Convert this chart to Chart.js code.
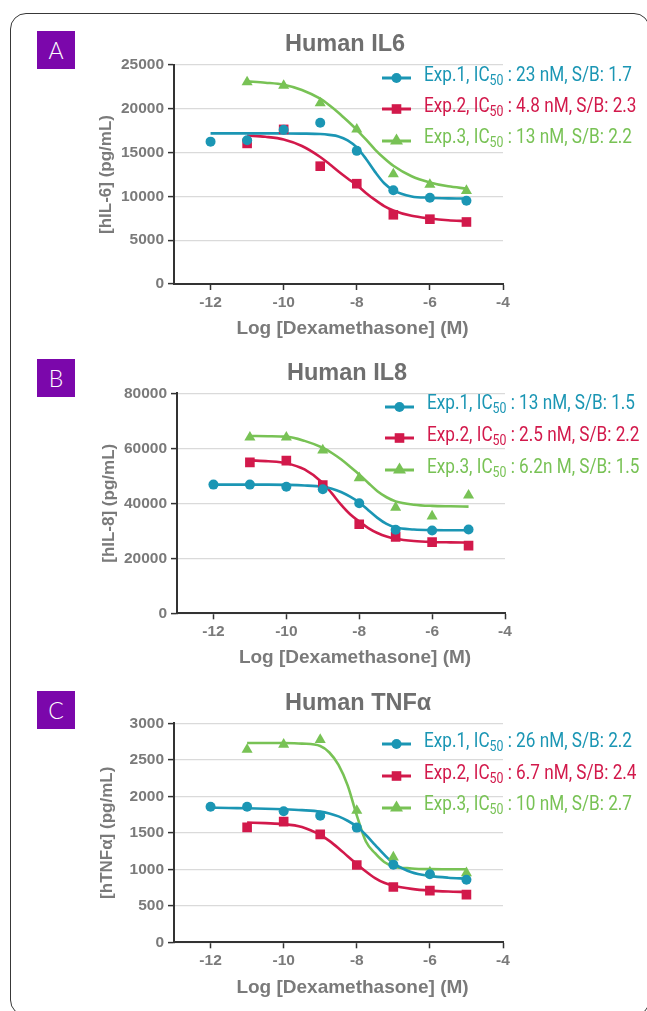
<!DOCTYPE html>
<html><head><meta charset="utf-8">
<script src="https://cdn.jsdelivr.net/npm/chart.js@4.4.1/dist/chart.umd.min.js"></script>
<style>
html,body{margin:0;padding:0;background:#fff;}
body{position:relative;width:647px;height:1011px;overflow:hidden;}
#frame{position:absolute;left:10px;top:13px;width:640px;height:1003px;border:1.5px solid #383838;border-radius:16px;box-sizing:border-box;}
.tag{position:absolute;left:37px;width:38px;height:38px;background:#7b07ab;color:#fff;font-family:Lato,"Open Sans",sans-serif;font-weight:300;font-size:23px;line-height:38px;text-align:center;}
canvas{position:absolute;left:0;}
.ttl{position:absolute;font-family:"Liberation Sans",Arial,sans-serif;font-weight:bold;color:#6f6f6f;font-size:23.5px;line-height:28px;height:28px;white-space:nowrap;}
.xt{position:absolute;width:400px;text-align:center;font-family:"Liberation Sans",Arial,sans-serif;font-weight:bold;color:#7a7a7a;font-size:19px;line-height:24px;height:24px;white-space:nowrap;}
.row{position:absolute;height:30px;width:10px;}
.row svg{position:absolute;left:0;top:5px;}
.row .txt{position:absolute;top:-3.5px;line-height:30px;font-family:"Liberation Sans Narrow",Roboto,sans-serif;font-size:19.5px;white-space:nowrap;transform-origin:0 50%;}
.row sub{font-size:14px;line-height:0;vertical-align:-4px;}
</style></head>
<body>
<div id="frame"></div>
<div class="tag" style="top:31px">A</div>
<div class="tag" style="top:359px">B</div>
<div class="tag" style="top:691px">C</div>
<canvas id="cA"></canvas>
<canvas id="cB"></canvas>
<canvas id="cC"></canvas>
<script>
// ---------- data ----------
const xTickValues = [-12, -10, -8, -6, -4];
const doseFrom12 = [-12, -11, -10, -9, -8, -7, -6, -5];
const doseFrom11 = [-11, -10, -9, -8, -7, -6, -5];
const fitXFrom12 = [-12, -11.5, -11, -10.5, -10, -9.5, -9, -8.75, -8.5, -8.25, -8, -7.75, -7.5, -7.25, -7, -6.5, -6, -5.5, -5];
const fitXFrom11 = [-11, -10.5, -10, -9.5, -9, -8.75, -8.5, -8.25, -8, -7.75, -7.5, -7.25, -7, -6.5, -6, -5.5, -5];
const xAxisTitle = 'Log [Dexamethasone] (M)';

// Human IL6
const il6Ticks = [0, 5000, 10000, 15000, 20000, 25000];
const il6Exp1 = [16250, 16400, 17600, 18400, 15200, 10700, 9850, 9500];
const il6Exp2 = [16050, 17650, 13450, 11450, 7900, 7400, 7080];
const il6Exp3 = [23050, 22650, 20650, 17650, 12550, 11350, 10650];
const il6Fit1 = [17200, 17200, 17200, 17200, 17190, 17170, 17120, 17020, 16850, 16400, 15600, 14300, 12800, 11500, 10700, 10000, 9850, 9780, 9750];
const il6Fit2 = [16950, 16800, 16500, 15750, 14500, 13700, 12850, 12050, 11300, 10400, 9600, 8900, 8400, 7780, 7480, 7280, 7170];
const il6Fit3 = [23130, 22980, 22750, 22150, 21150, 20400, 19550, 18600, 17600, 16500, 15350, 14350, 13500, 12300, 11600, 11150, 10900];
const il6IC50 = ['23 nM', '4.8 nM', '13 nM'];
const il6SB = ['1.7', '2.3', '2.2'];

// Human IL8
const il8Ticks = [0, 20000, 40000, 60000, 80000];
const il8Exp1 = [46800, 46800, 46000, 45100, 40000, 30400, 30100, 30500];
const il8Exp2 = [54900, 55500, 46600, 32400, 27800, 25900, 24600];
const il8Exp3 = [64000, 64000, 59300, 49200, 38500, 35300, 42900];
const il8Fit1 = [46800, 46800, 46800, 46780, 46700, 46500, 46000, 45300, 44100, 42400, 40300, 37500, 34700, 32500, 31200, 30500, 30250, 30200, 30200];
const il8Fit2 = [55600, 55300, 54600, 52300, 47400, 43600, 39500, 36000, 33400, 31000, 29200, 27900, 27100, 26300, 25950, 25800, 25700];
const il8Fit3 = [64500, 64400, 64250, 62700, 60200, 58300, 56000, 53300, 50500, 47400, 44400, 42200, 40700, 39500, 39050, 38900, 38800];
const il8IC50 = ['13 nM', '2.5 nM', '6.2n M'];
const il8SB = ['1.5', '2.2', '1.5'];

// Human TNFα
const tnfTicks = [0, 500, 1000, 1500, 2000, 2500, 3000];
const tnfExp1 = [1858, 1858, 1795, 1735, 1571, 1064, 932, 858];
const tnfExp2 = [1575, 1653, 1479, 1059, 758, 708, 653];
const tnfExp3 = [2640, 2710, 2775, 1805, 1165, 960, 950];
const tnfFit1 = [1845, 1840, 1836, 1830, 1822, 1810, 1790, 1765, 1725, 1665, 1585, 1470, 1335, 1200, 1085, 960, 910, 885, 872];
const tnfFit2 = [1640, 1632, 1620, 1578, 1470, 1390, 1290, 1180, 1073, 970, 880, 815, 775, 732, 708, 695, 688];
const tnfFit3 = [2731, 2731, 2730, 2722, 2690, 2600, 2430, 2150, 1740, 1380, 1220, 1100, 1040, 1012, 1002, 1000, 1000];
const tnfIC50 = ['26 nM', '6.7 nM', '10 nM'];
const tnfSB = ['2.2', '2.4', '2.7'];

// ---------- style ----------
const FONT = '"Liberation Sans", Arial, Helvetica, sans-serif';
const GREY = '#7a7a7a';
const AXIS = '#333333';
const COLORS = ['#1b96b4', '#d2194b', '#78c255'];

function pts(xs, ys) { return xs.map((x, i) => ({x: x, y: ys[i]})); }

function addDiv(cls, text, left, top) {
  const d = document.createElement('div');
  d.className = cls; d.textContent = text;
  d.style.left = left + 'px'; d.style.top = top + 'px';
  document.body.appendChild(d);
}

function build(id, c) {
  const W = 647, H = c.H, T = c.T;
  const cv = document.getElementById(id);
  cv.width = W; cv.height = H;
  cv.style.width = W + 'px'; cv.style.height = H + 'px'; cv.style.top = T + 'px';
  const ytFS = 17, ytLH = ytFS * 1.2;
  const pT = c.plot.top - T, pB = c.plot.bottom - T;
  const tickFont = {family: FONT, size: 15.5, weight: 'bold'};
  new Chart(cv, {
    type: 'scatter',
    data: {
      datasets: [
        {data: pts(doseFrom12, c.exp1), pointStyle: 'circle', pointRadius: 5, backgroundColor: COLORS[0], borderColor: COLORS[0], borderWidth: 0, order: 0},
        {data: pts(doseFrom11, c.exp2), pointStyle: 'rect', pointRadius: 6.8, backgroundColor: COLORS[1], borderColor: COLORS[1], borderWidth: 0, order: 1},
        {data: pts(doseFrom11, c.exp3), pointStyle: 'triangle', pointRadius: 6.4, backgroundColor: COLORS[2], borderColor: COLORS[2], borderWidth: 0, order: 2},
        {data: pts(fitXFrom12, c.fit1), showLine: true, pointRadius: 0, borderColor: COLORS[0], borderWidth: 2.6, cubicInterpolationMode: 'monotone', order: 3},
        {data: pts(fitXFrom11, c.fit2), showLine: true, pointRadius: 0, borderColor: COLORS[1], borderWidth: 2.6, cubicInterpolationMode: 'monotone', order: 4},
        {data: pts(fitXFrom11, c.fit3), showLine: true, pointRadius: 0, borderColor: COLORS[2], borderWidth: 2.6, cubicInterpolationMode: 'monotone', order: 5}
      ]
    },
    options: {
      responsive: false, animation: false, devicePixelRatio: 1, events: [],
      layout: {padding: {left: 0, top: pT, right: W - c.plot.right, bottom: 0}},
      plugins: {legend: {display: false}, tooltip: {enabled: false}, title: {display: false}},
      scales: {
        x: {
          type: 'linear', min: -13, max: -4,
          afterBuildTicks: s => { s.ticks = xTickValues.map(v => ({value: v})); },
          afterFit: s => { s.height = H - pB; },
          grid: {drawOnChartArea: false, drawTicks: true, tickLength: 6, tickColor: AXIS, tickWidth: 1.5},
          border: {color: AXIS, width: 2},
          ticks: {padding: 3, color: GREY, font: tickFont, maxRotation: 0, autoSkip: false, callback: v => String(v)},
          title: {display: false}
        },
        y: {
          type: 'linear', min: 0, max: c.yTicks[c.yTicks.length - 1],
          afterBuildTicks: s => { s.ticks = c.yTicks.map(v => ({value: v})); },
          afterFit: s => { s.width = c.plot.left; },
          grid: {color: '#dadada', lineWidth: 1.2, drawTicks: true, tickLength: 6, tickColor: AXIS, tickWidth: 1.5},
          border: {color: AXIS, width: 2},
          ticks: {padding: 4, color: GREY, font: tickFont, callback: v => String(v)},
          title: {display: true, text: c.yTitle, color: GREY,
            font: {family: FONT, size: ytFS, weight: 'bold', lineHeight: 1.2},
            padding: {top: c.yTitleCX - ytLH / 2, bottom: 0}}
        }
      }
    }
  });
  addDiv('ttl', c.title, c.titleLeft, c.titleCY - 14);
  addDiv('xt', xAxisTitle, c.xTitleCX - 200, c.xTitleCY - 12);
}

build('cA', {T: 0, H: 345, plot: {left: 174, right: 503, top: 65, bottom: 284},
  titleLeft: 285, titleCY: 43, xTitleCX: 352.5, xTitleCY: 327.5, yTitleCX: 106, title: 'Human IL6', yTitle: '[hIL-6] (pg/mL)',
  yTicks: il6Ticks, exp1: il6Exp1, exp2: il6Exp2, exp3: il6Exp3, fit1: il6Fit1, fit2: il6Fit2, fit3: il6Fit3});
build('cB', {T: 330, H: 345, plot: {left: 177, right: 505, top: 393.3, bottom: 613.3},
  titleLeft: 287, titleCY: 372, xTitleCX: 355, xTitleCY: 657, yTitleCX: 109, title: 'Human IL8', yTitle: '[hIL-8] (pg/mL)',
  yTicks: il8Ticks, exp1: il8Exp1, exp2: il8Exp2, exp3: il8Exp3, fit1: il8Fit1, fit2: il8Fit2, fit3: il8Fit3});
build('cC', {T: 665, H: 346, plot: {left: 174, right: 503, top: 723.3, bottom: 942.3},
  titleLeft: 285, titleCY: 701.5, xTitleCX: 352.5, xTitleCY: 986.5, yTitleCX: 107, title: 'Human TNFα', yTitle: '[hTNFα] (pg/mL)',
  yTicks: tnfTicks, exp1: tnfExp1, exp2: tnfExp2, exp3: tnfExp3, fit1: tnfFit1, fit2: tnfFit2, fit3: tnfFit3});

// ---------- legends (HTML text) ----------
function icon(i) {
  const col = COLORS[i];
  let m;
  if (i === 0) m = `<circle cx="14.5" cy="10" r="5" fill="${col}"/>`;
  else if (i === 1) m = `<rect x="9.7" y="5.2" width="9.6" height="9.6" fill="${col}"/>`;
  else m = `<polygon points="14.5,2.5 21,13.6 8,13.6" fill="${col}"/>`;
  return `<svg width="30" height="20" viewBox="0 0 30 20"><line x1="0" y1="10" x2="29" y2="10" stroke="${col}" stroke-width="3"/>${m}</svg>`;
}
const txtEls = [];
function addLegend(rowsCY, iconLeft, textLeft, ic50s, sbs) {
  rowsCY.forEach((cy, i) => {
    const row = document.createElement('div');
    row.className = 'row';
    row.style.left = iconLeft + 'px';
    row.style.top = (cy - 15) + 'px';
    row.innerHTML = icon(i) + `<span class="txt" style="left:${textLeft - iconLeft}px;color:${COLORS[i]}">Exp.${i + 1}, IC<sub>50</sub> : ${ic50s[i]}, S/B: ${sbs[i]}</span>`;
    document.body.appendChild(row);
    txtEls.push(row.querySelector('.txt'));
  });
}
addLegend([78, 109.3, 140.7], 382, 424, il6IC50, il6SB);
addLegend([406.7, 438.3, 470], 384.5, 427, il8IC50, il8SB);
addLegend([744.3, 776, 807.7], 382, 424, tnfIC50, tnfSB);
const natural = txtEls[0].getBoundingClientRect().width;
const k = 208 / natural;
txtEls.forEach(el => { el.style.transform = `scaleX(${k})`; });
</script>
</body></html>
